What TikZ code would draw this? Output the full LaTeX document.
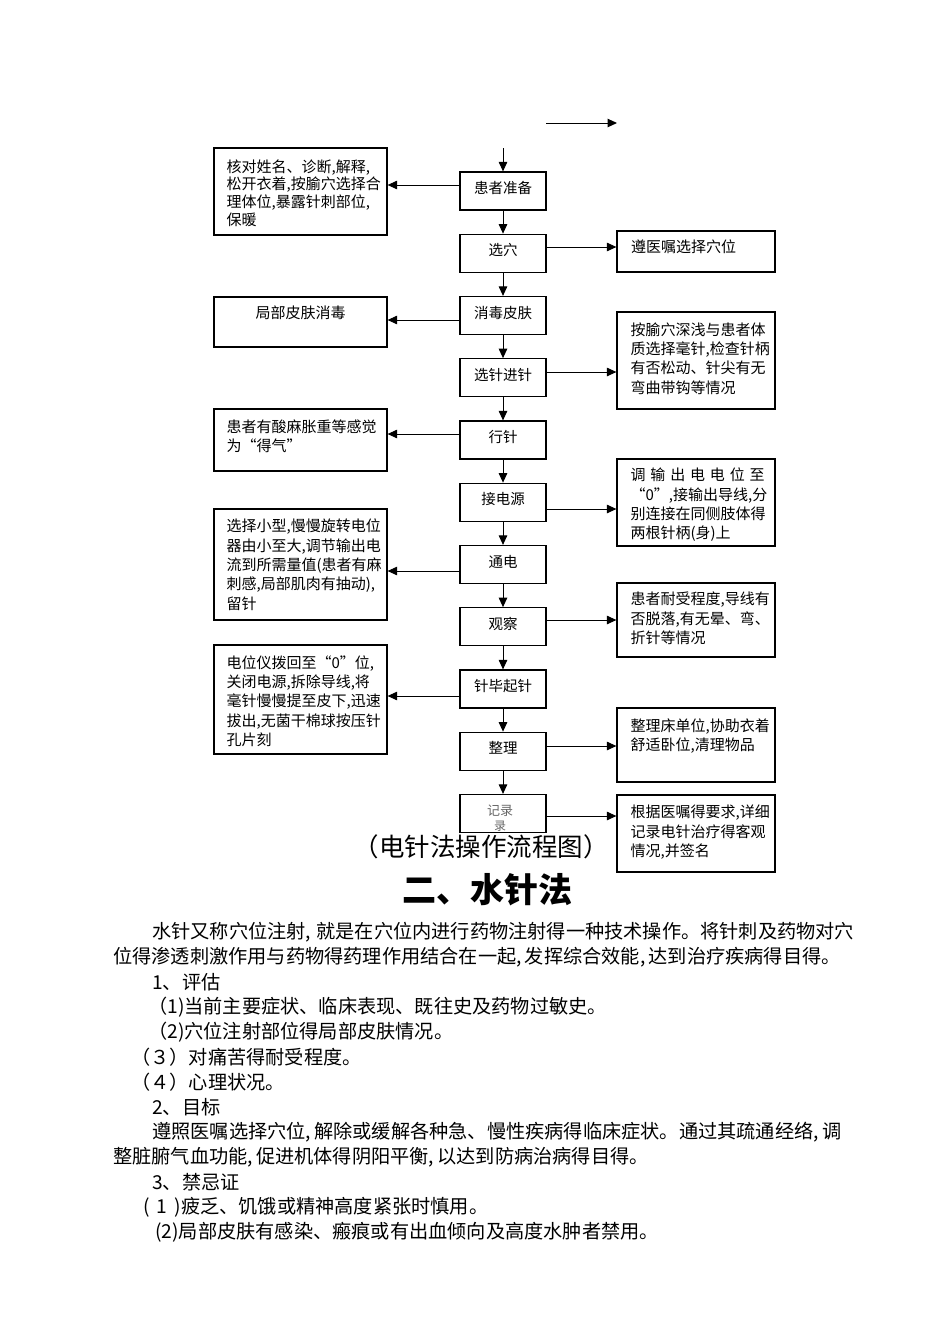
\documentclass[tikz,border=0pt]{standalone}
\usepackage{fontspec}
\setmainfont{Liberation Serif}
\newfontfamily\cjk{Noto Sans CJK SC}
\usetikzlibrary{arrows.meta}
\tikzset{
  box/.style={draw, line width=1.2pt, inner sep=0pt},
  cbox/.style={box, minimum width=86pt, minimum height=38pt, font=\cjk\fontsize{14.5}{16}\selectfont, text height=13pt, text depth=8pt},
  lbox/.style={box, minimum width=173pt},
  rbox/.style={box, minimum width=158pt},
  arr/.style={line width=1pt, -{Triangle[length=9.5pt,width=8.5pt]}},
  btxt/.style={font=\cjk\fontsize{15}{19.3}\selectfont, inner sep=0pt, align=left, anchor=north west},
  ptxt/.style={font=\cjk\fontsize{19.2}{25}\selectfont, inner sep=0pt, anchor=west},
}
\begin{document}
\begin{tikzpicture}[x=1pt,y=-1pt]
\useasboundingbox (0,0) rectangle (950,1344);
% centre column
\node[cbox] (c1) at (503,191) {患者准备};
\node[cbox] (c2) at (503,253.25) {选穴};
\node[cbox] (c3) at (503,315.5) {消毒皮肤};
\node[cbox] (c4) at (503,377.75) {选针进针};
\node[cbox] (c5) at (503,440) {行针};
\node[cbox] (c6) at (503,502.25) {接电源};
\node[cbox] (c7) at (503,564.5) {通电};
\node[cbox] (c8) at (503,626.75) {观察};
\node[cbox] (c9) at (503,689) {针毕起针};
\node[cbox] (c10) at (503,751.25) {整理};
\node[cbox] (c11) at (503,813.5) {};
\node[font=\cjk\fontsize{13}{14}\selectfont, text=black!60, inner sep=0pt] (c11t) at (500,811) {记录};
\begin{scope}
\clip (c11.north west) rectangle (c11.south east);
\node[font=\cjk\fontsize{12}{13}\selectfont, text=black!60, inner sep=0pt] (c11u) at (500,826) {录};
\end{scope}
% left boxes
\node[lbox, minimum height=87pt] (l1) at (300.5,191.5) {};
\node[btxt, font=\cjk\fontsize{15}{17.7}\selectfont] (l1t) at ([xshift=13pt,yshift=-12pt]l1.north west) {核对姓名、诊断,解释,\\松开衣着,按腧穴选择合\\理体位,暴露针刺部位,\\保暖};
\node[lbox, minimum height=50pt] (l2) at (300.5,322) {};
\node[font=\cjk\fontsize{15}{18}\selectfont, inner sep=0pt] (l2t) at ([yshift=-16pt]l2.north) {局部皮肤消毒};
\node[lbox, minimum height=62pt] (l3) at (300.5,440) {};
\node[btxt] (l3t) at ([xshift=13pt,yshift=-11pt]l3.north west) {患者有酸麻胀重等感觉\\为“得气”};
\node[lbox, minimum height=111pt] (l4) at (300.5,564.5) {};
\node[btxt] (l4t) at ([xshift=13pt,yshift=-10.5pt]l4.north west) {选择小型,慢慢旋转电位\\器由小至大,调节输出电\\流到所需量值(患者有麻\\刺感,局部肌肉有抽动),\\留针};
\node[lbox, minimum height=109pt] (l5) at (300.5,699.5) {};
\node[btxt] (l5t) at ([xshift=13pt,yshift=-11pt]l5.north west) {电位仪拨回至“0”位,\\关闭电源,拆除导线,将\\毫针慢慢提至皮下,迅速\\拔出,无菌干棉球按压针\\孔片刻};
% right boxes
\node[rbox, minimum height=41pt] (r1) at (696,251.5) {};
\node[font=\cjk\fontsize{15}{18}\selectfont, inner sep=0pt, anchor=west] (r1t) at (631,247) {遵医嘱选择穴位};
\node[rbox, minimum height=97pt] (r2) at (696,360.5) {};
\node[btxt] (r2t) at ([xshift=14pt,yshift=-11pt]r2.north west) {按腧穴深浅与患者体\\质选择毫针,检查针柄\\有否松动、针尖有无\\弯曲带钩等情况};
\node[rbox, minimum height=87pt] (r3) at (696,502.5) {};
\node[btxt] (r3t) at ([xshift=14pt,yshift=-9.5pt]r3.north west) {\makebox[134pt][s]{调\hfill 输\hfill 出\hfill 电\hfill 电\hfill 位\hfill 至}\\“0”,接输出导线,分\\别连接在同侧肢体得\\两根针柄(身)上};
\node[rbox, minimum height=74pt] (r4) at (696,620) {};
\node[btxt] (r4t) at ([xshift=14pt,yshift=-9.5pt]r4.north west) {患者耐受程度,导线有\\否脱落,有无晕、弯、\\折针等情况};
\node[rbox, minimum height=74pt] (r5) at (696,745) {};
\node[btxt] (r5t) at ([xshift=14pt,yshift=-11pt]r5.north west) {整理床单位,协助衣着\\舒适卧位,清理物品};
\node[rbox, minimum height=77pt] (r6) at (696,833.5) {};
\node[btxt] (r6t) at ([xshift=14pt,yshift=-10.5pt]r6.north west) {根据医嘱得要求,详细\\记录电针治疗得客观\\情况,并签名};
% free arrows at the top
\coordinate (ta) at (546,123);
\coordinate (tb) at (617,123);
\draw[arr] (ta) -- (tb);
\coordinate (top) at (503,148);
\draw[arr] (top) -- (c1);
% vertical chain
\foreach \a/\b in {c1/c2,c2/c3,c3/c4,c4/c5,c5/c6,c6/c7,c7/c8,c8/c9,c9/c10,c10/c11}
  \draw[arr] (\a) -- (\b);
% left arrows
\draw[arr] (c1.west |- 0,185) -- (l1.east |- 0,185);
\draw[arr] (c3.west |- 0,320) -- (l2.east |- 0,320);
\draw[arr] (c5.west |- 0,434) -- (l3.east |- 0,434);
\draw[arr] (c7.west |- 0,571) -- (l4.east |- 0,571);
\draw[arr] (c9.west |- 0,696) -- (l5.east |- 0,696);
% right arrows
\draw[arr] (c2.east |- 0,247) -- (r1.west |- 0,247);
\draw[arr] (c4.east |- 0,372) -- (r2.west |- 0,372);
\draw[arr] (c6.east |- 0,509) -- (r3.west |- 0,509);
\draw[arr] (c8.east |- 0,620) -- (r4.west |- 0,620);
\draw[arr] (c10.east |- 0,746) -- (r5.west |- 0,746);
\draw[arr] (c11.east |- 0,816) -- (r6.west |- 0,816);
% titles
\node[font=\cjk\fontsize{25.5}{30}\selectfont, inner sep=0pt] (title) at (481,847) {（电针法操作流程图）};
\node[font=\cjk\bfseries\fontsize{34}{40}\selectfont, inner sep=0pt] (head) at (487,890) {二、水针法};
% body text
\node[ptxt] (p1) at (152,932) {水针又称穴位注射,\;就是在穴位内进行药物注射得一种技术操作。将针刺及药物对穴};
\node[ptxt] (p2) at (113,957) {位得渗透刺激作用与药物得药理作用结合在一起,\,发挥综合效能,\,达到治疗疾病得目得。};
\node[ptxt] (p3) at (152,982) {1、评估};
\node[ptxt] (p4) at (148,1007) {（1)当前主要症状、临床表现、既往史及药物过敏史。};
\node[ptxt] (p5) at (148,1032) {（2)穴位注射部位得局部皮肤情况。};
\node[ptxt] (p6) at (131,1057) {（３）对痛苦得耐受程度。};
\node[ptxt] (p7) at (131,1082) {（４）心理状况。};
\node[ptxt] (p8) at (152,1107) {2、目标};
\node[ptxt] (p9) at (152,1132) {遵照医嘱选择穴位,\,解除或缓解各种急、慢性疾病得临床症状。通过其疏通经络,\,调};
\node[ptxt] (p10) at (113,1157) {整脏腑气血功能,\,促进机体得阴阳平衡,\,以达到防病治病得目得。};
\node[ptxt] (p11) at (152,1182) {3、禁忌证};
\node[ptxt] (p12) at (143,1207) {\makebox[38pt][s]{(\hfill 1\hfill )}疲乏、饥饿或精神高度紧张时慎用。};
\node[ptxt] (p13) at (155,1232) {(2)局部皮肤有感染、瘢痕或有出血倾向及高度水肿者禁用。};
\end{tikzpicture}
\end{document}
